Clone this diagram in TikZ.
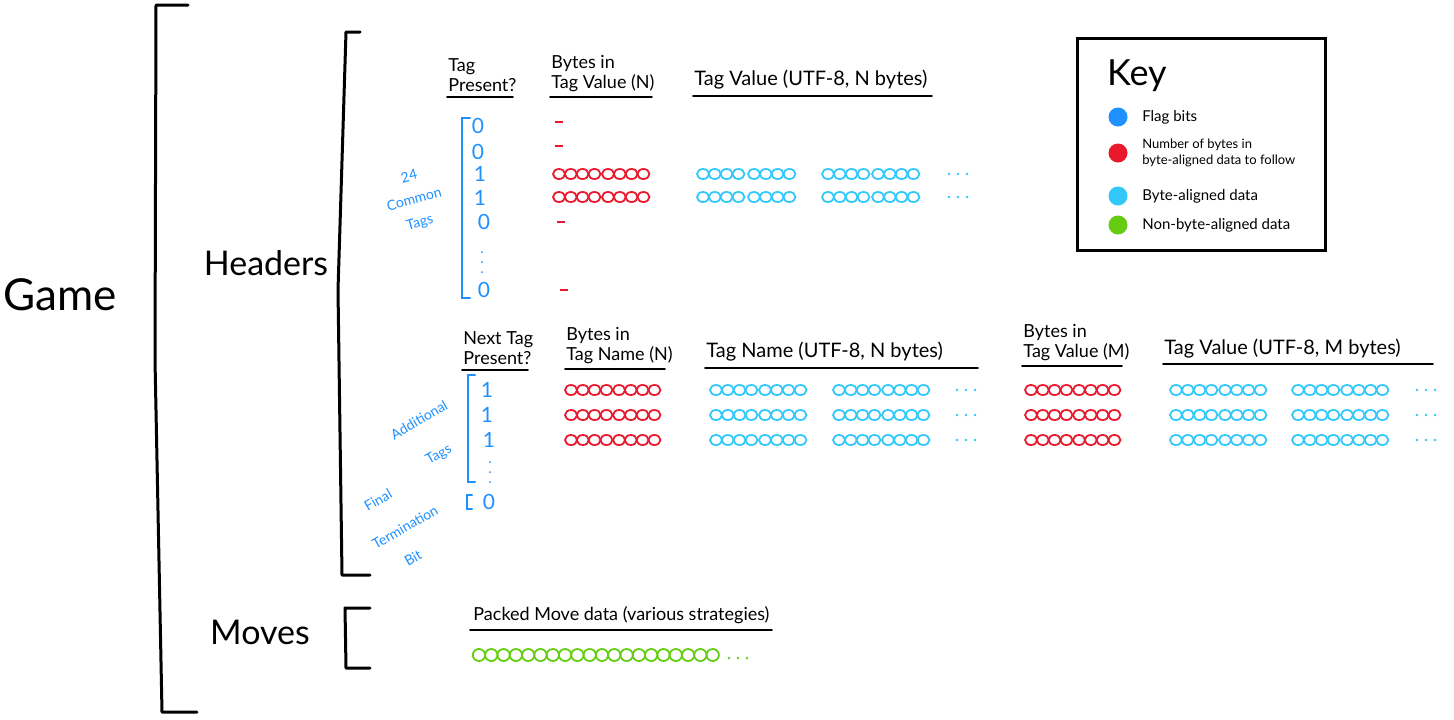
\documentclass[tikz,border=0pt]{standalone}
\usepackage{fontspec}
\setmainfont{Lato}
\usetikzlibrary{positioning}

\definecolor{flagblue}{RGB}{30,144,255}
\definecolor{countred}{RGB}{232,25,44}
\definecolor{bytecyan}{RGB}{51,200,250}
\definecolor{bitgreen}{RGB}{102,204,17}

\tikzset{
    biglabel/.style={font=\fontsize{17}{20}\selectfont},
    heading/.style={font=\fontsize{9}{10}\selectfont, align=left, anchor=south west, inner sep=1pt},
    longheading/.style={heading, font=\fontsize{10}{11}\selectfont},
    flagbit/.style={text=flagblue, font=\fontsize{10.5}{12}\selectfont, inner sep=0pt},
    bluenote/.style={text=flagblue, font=\fontsize{7}{8}\selectfont, inner sep=0pt},
    bracket/.style={line width=1.5pt, line cap=round, line join=round},
    flagbracket/.style={flagblue, line width=1pt, line cap=round},
    underline/.style={line width=0.9pt, line cap=round},
    bytering/.style={line width=0.9pt},
    keydot/.style={circle, minimum size=9.5pt, inner sep=0pt},
    keytext/.style={font=\fontsize{7.5}{8.5}\selectfont, align=left, inner sep=0pt}
}

% four rings = one byte
\newcommand{\bytegroup}[3]{%
    \foreach \k in {0,...,3} {
        \draw [#3, bytering] ( #1 + 6 + 11.8*\k, #2 ) ellipse [x radius=6, y radius=5];
    }
}
% three dots = more of the same
\newcommand{\moredots}[3]{%
    \foreach \k in {0,...,2} {
        \fill [#3] ( #1 + 9*\k, #2 ) circle [radius=1.3];
    }
}

\begin{document}
\begin{tikzpicture}[x=0.5pt, y=-0.5pt]
    \useasboundingbox ( 0, 0 ) rectangle ( 1454, 719 );

    % big brackets
    \node [biglabel, font=\fontsize{22}{24}\selectfont] (game) at ( 60, 295 ) {Game};
    \draw [bracket] ( 188, 5 ) -- ( 156, 5 ) -- ( 155, 360 ) -- ( 162, 712 ) -- ( 197, 712 );

    \node [biglabel] (headers) at ( 266, 263 ) {Headers};
    \draw [bracket] ( 360, 32 ) -- ( 346, 32 ) -- ( 338, 290 ) -- ( 342, 575 ) -- ( 370, 575 );

    \node [biglabel] (moves) at ( 260, 632 ) {Moves};
    \draw [bracket] ( 370, 608 ) -- ( 345, 608 ) -- ( 346, 668 ) -- ( 370, 668 );

    % common tags: headings
    \node [heading] (presenthead) at ( 446, 94 ) {Tag\\Present?};
    \draw [underline] ( 447, 97 ) -- ( 513, 97 );
    \node [heading] (vallenhead) at ( 549, 94 ) {Bytes in\\Tag Value (N)};
    \draw [underline] ( 550, 97 ) -- ( 652, 97 );
    \node [longheading] (valhead) at ( 692, 92 ) {Tag Value (UTF-8, N bytes)};
    \draw [underline] ( 693, 96 ) -- ( 932, 96 );

    % common tags: flag bits
    \node [bluenote, rotate=15] (commonA) at ( 409, 176 ) {24};
    \node [bluenote, rotate=15] (commonB) at ( 414, 199 ) {Common};
    \node [bluenote, rotate=15] (commonC) at ( 420, 223 ) {Tags};
    \draw [flagbracket] ( 470, 118 ) -- ( 462, 118 ) -- ( 462, 298 ) -- ( 470, 298 );
    \node [flagbit] (bitA) at ( 478, 126 ) {0};
    \node [flagbit] (bitB) at ( 478, 152 ) {0};
    \node [flagbit] (bitC) at ( 480, 174 ) {1};
    \node [flagbit] (bitD) at ( 480, 198 ) {1};
    \node [flagbit] (bitE) at ( 484, 222 ) {0};
    \foreach \y in {252, 262, 272} {
        \fill [flagblue] ( 482, \y ) circle [radius=1];
    }
    \node [flagbit] (bitF) at ( 484, 290 ) {0};

    % common tags: lengths and values
    \draw [countred, line width=1pt] ( 555, 122 ) -- ( 563, 122 );
    \draw [countred, line width=1pt] ( 555, 146 ) -- ( 563, 146 );
    \draw [countred, line width=1pt] ( 557, 222 ) -- ( 565, 222 );
    \draw [countred, line width=1pt] ( 560, 290 ) -- ( 568, 290 );
    \foreach \y in {174, 197} {
        \bytegroup{553}{\y}{countred}
        \bytegroup{602}{\y}{countred}
        \bytegroup{697}{\y}{bytecyan}
        \bytegroup{748}{\y}{bytecyan}
        \bytegroup{822}{\y}{bytecyan}
        \bytegroup{872}{\y}{bytecyan}
        \moredots{949}{\y}{bytecyan}
    }

    % key
    \draw [line width=1.5pt] ( 1077, 38 ) rectangle ( 1325, 250 );
    \node [font=\fontsize{18}{20}\selectfont, anchor=west] (keytitle) at ( 1100, 76 ) {Key};
    \node [keydot, fill=flagblue] (dotflag) at ( 1118, 117 ) {};
    \node [keytext, right=7pt of dotflag] (txtflag) {Flag bits};
    \node [keydot, fill=countred] (dotcount) at ( 1118, 153 ) {};
    \node [keytext, right=7pt of dotcount, font=\fontsize{6.5}{8}\selectfont] (txtcount) {Number of bytes in\\byte-aligned data to follow};
    \node [keydot, fill=bytecyan] (dotbyte) at ( 1118, 196 ) {};
    \node [keytext, right=7pt of dotbyte] (txtbyte) {Byte-aligned data};
    \node [keydot, fill=bitgreen] (dotbit) at ( 1118, 225 ) {};
    \node [keytext, right=7pt of dotbit] (txtbit) {Non-byte-aligned data};

    % additional tags: headings
    \node [heading] (nexthead) at ( 461, 367 ) {Next Tag\\Present?};
    \draw [underline] ( 462, 370 ) -- ( 528, 370 );
    \node [heading] (namelenhead) at ( 564, 366 ) {Bytes in\\Tag Name (N)};
    \draw [underline] ( 565, 369 ) -- ( 665, 369 );
    \node [longheading] (namehead) at ( 704, 364 ) {Tag Name (UTF-8, N bytes)};
    \draw [underline] ( 705, 368 ) -- ( 978, 368 );
    \node [heading] (vallenheadM) at ( 1021, 363 ) {Bytes in\\Tag Value (M)};
    \draw [underline] ( 1022, 366 ) -- ( 1122, 366 );
    \node [longheading] (valheadM) at ( 1162, 361 ) {Tag Value (UTF-8, M bytes)};
    \draw [underline] ( 1163, 364 ) -- ( 1433, 364 );

    % additional tags: flag bits
    \node [bluenote, rotate=30] (addA) at ( 419, 420 ) {Additional};
    \node [bluenote, rotate=30] (addB) at ( 439, 455 ) {Tags};
    \node [bluenote, rotate=30] (finalA) at ( 378, 500 ) {Final};
    \node [bluenote, rotate=30] (finalB) at ( 405, 527 ) {Termination};
    \node [bluenote, rotate=30] (finalC) at ( 413, 558 ) {Bit};
    \draw [flagbracket] ( 475, 375 ) -- ( 468, 375 ) -- ( 468, 482 ) -- ( 475, 482 );
    \node [flagbit] (nextA) at ( 487, 390 ) {1};
    \node [flagbit] (nextB) at ( 487, 415 ) {1};
    \node [flagbit] (nextC) at ( 489, 440 ) {1};
    \foreach \y in {462, 472, 482} {
        \fill [flagblue] ( 490, \y ) circle [radius=1];
    }
    \draw [flagbracket] ( 472, 495 ) -- ( 467, 495 ) -- ( 467, 509 ) -- ( 472, 509 );
    \node [flagbit] (endbit) at ( 489, 502 ) {0};

    % additional tags: names and values
    \foreach \y in {390, 415, 440} {
        \bytegroup{565}{\y}{countred}
        \bytegroup{613}{\y}{countred}
        \bytegroup{710}{\y}{bytecyan}
        \bytegroup{759}{\y}{bytecyan}
        \bytegroup{833}{\y}{bytecyan}
        \bytegroup{882}{\y}{bytecyan}
        \moredots{957}{\y}{bytecyan}
        \bytegroup{1025}{\y}{countred}
        \bytegroup{1073}{\y}{countred}
        \bytegroup{1170}{\y}{bytecyan}
        \bytegroup{1219}{\y}{bytecyan}
        \bytegroup{1292}{\y}{bytecyan}
        \bytegroup{1341}{\y}{bytecyan}
        \moredots{1417}{\y}{bytecyan}
    }

    % moves
    \node [heading] (movehead) at ( 471, 626 ) {Packed Move data (various strategies)};
    \draw [underline] ( 470, 630 ) -- ( 772, 630 );
    \foreach \k in {0,...,19} {
        \draw [bitgreen, bytering] ( 479 + 12.3*\k, 655 ) ellipse [x radius=6.2, y radius=6];
    }
    \moredots{729}{658}{bitgreen}
\end{tikzpicture}
\end{document}
